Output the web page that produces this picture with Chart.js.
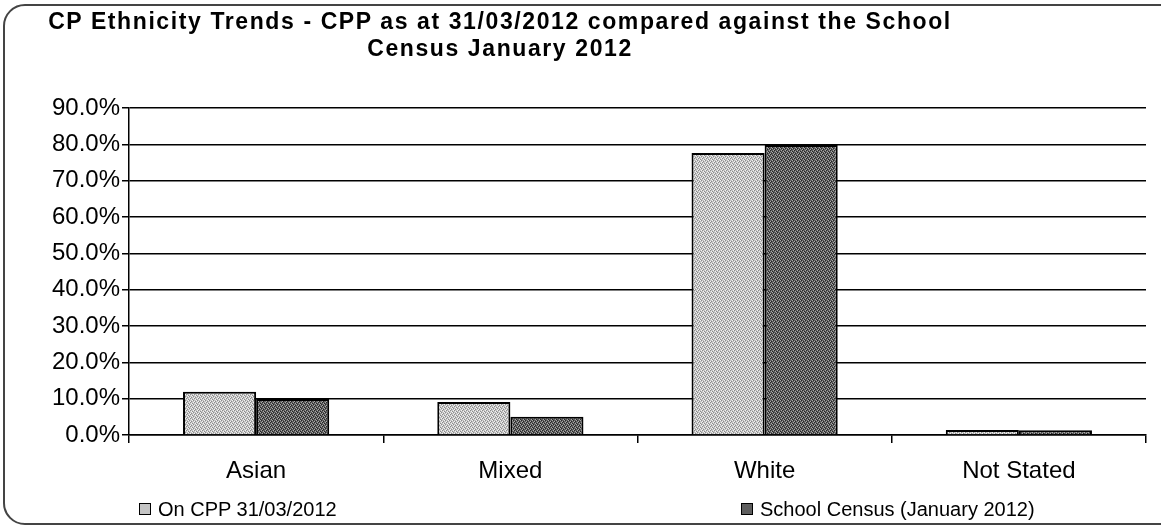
<!DOCTYPE html>
<html>
<head>
<meta charset="utf-8">
<script src="https://cdn.jsdelivr.net/npm/chart.js"></script>
<style>
  body { margin: 0; background: #fff; }
  #wrap { position: relative; width: 1161px; height: 527px; overflow: hidden; font-family: "Liberation Sans", Arial, sans-serif; }
  #frame { position: absolute; left: 3px; top: 4px; width: 1190px; height: 521px; border: 2px solid #444; border-radius: 22px; box-sizing: border-box; }
  #title { position: absolute; left: 0; top: 8px; width: 1000px; text-align: center; font-weight: bold; font-size: 23px; letter-spacing: 1.6px; line-height: 27px; color: #000; }
  #chart { position: absolute; left: 0; top: 0; }
  #legend span.item { position: absolute; top: 498px; font-size: 20px; color: #000; white-space: nowrap; }
  #legend span.box { display: inline-block; width: 10px; height: 10px; border: 1px solid #000; margin-right: 7px; vertical-align: 1px; }
</style>
</head>
<body>
<div id="wrap">
  <div id="frame"></div>
  <canvas id="chart" width="1161" height="527"></canvas>
  <div id="title">CP Ethnicity Trends - CPP as at 31/03/2012 compared against the School<br>Census January 2012</div>
  <div id="legend"></div>
</div>
<script>
var categories = ['Asian', 'Mixed', 'White', 'Not Stated'];
var onCpp = [11.9, 9.1, 77.6, 1.4];
var schoolCensus = [9.9, 5.0, 79.8, 1.3];
var seriesNames = ['On CPP 31/03/2012', 'School Census (January 2012)'];
var yTicks = [0, 10, 20, 30, 40, 50, 60, 70, 80, 90];

// little dither texture like the scanned excel fills
function makePattern(base, light, dark) {
  var c = document.createElement('canvas');
  c.width = 4; c.height = 4;
  var g = c.getContext('2d');
  g.fillStyle = base;
  g.fillRect(0, 0, 4, 4);
  g.fillStyle = light;
  [[0,0],[2,1],[1,2],[3,3]].forEach(function (p) { g.fillRect(p[0], p[1], 1, 1); });
  g.fillStyle = dark;
  [[1,0],[3,1],[0,3],[2,2]].forEach(function (p) { g.fillRect(p[0], p[1], 1, 1); });
  return c;
}

var ctx = document.getElementById('chart').getContext('2d');
var lightFill = ctx.createPattern(makePattern('#c4c4c4', '#f2f2f2', '#8c8c8c'), 'repeat');
var darkFill = ctx.createPattern(makePattern('#5e5e5e', '#a8a8a8', '#262626'), 'repeat');

var chart = new Chart(ctx, {
  type: 'bar',
  data: {
    labels: categories,
    datasets: [{
      label: seriesNames[0],
      data: onCpp,
      backgroundColor: lightFill,
      borderColor: '#000',
      borderWidth: 2,
      borderSkipped: 'bottom'
    }, {
      label: seriesNames[1],
      data: schoolCensus,
      backgroundColor: darkFill,
      borderColor: '#000',
      borderWidth: 2,
      borderSkipped: 'bottom'
    }]
  },
  options: {
    responsive: false,
    animation: false,
    layout: { padding: { left: 0, right: 15, top: 108, bottom: 46 } },
    datasets: { bar: { categoryPercentage: 0.575, barPercentage: 1.0 } },
    plugins: {
      legend: { display: false },
      title: { display: false },
      tooltip: { enabled: false }
    },
    scales: {
      x: {
        grid: { offset: true, drawOnChartArea: false, drawTicks: true, tickLength: 8, color: '#000', lineWidth: 1.5 },
        border: { color: '#000', width: 1.5 },
        ticks: { color: '#000', padding: 14, font: { family: 'Liberation Sans', size: 24 } },
        afterFit: function (axis) { axis.height = 46; }
      },
      y: {
        min: 0,
        max: 90,
        afterBuildTicks: function (axis) { axis.ticks = yTicks.map(function (v) { return { value: v }; }); },
        grid: { color: '#000', lineWidth: 1.5, tickLength: 7 },
        border: { color: '#000', width: 1.5 },
        ticks: {
          color: '#000',
          padding: 2,
          font: { family: 'Liberation Sans', size: 24 },
          callback: function (v) { return v.toFixed(1) + '%'; }
        },
        afterFit: function (axis) { axis.width = 129; }
      }
    }
  }
});

// html legend, spaced out like the original
var legendLeft = [139, 741];
var html = '';
chart.data.datasets.forEach(function (ds, i) {
  html += '<span class="item" style="left:' + legendLeft[i] + 'px">';
  html += '<span class="box" style="background:' + (i === 0 ? '#c4c4c4' : '#5e5e5e') + '"></span>';
  html += ds.label + '</span>';
});
document.getElementById('legend').innerHTML = html;
</script>
</body>
</html>
